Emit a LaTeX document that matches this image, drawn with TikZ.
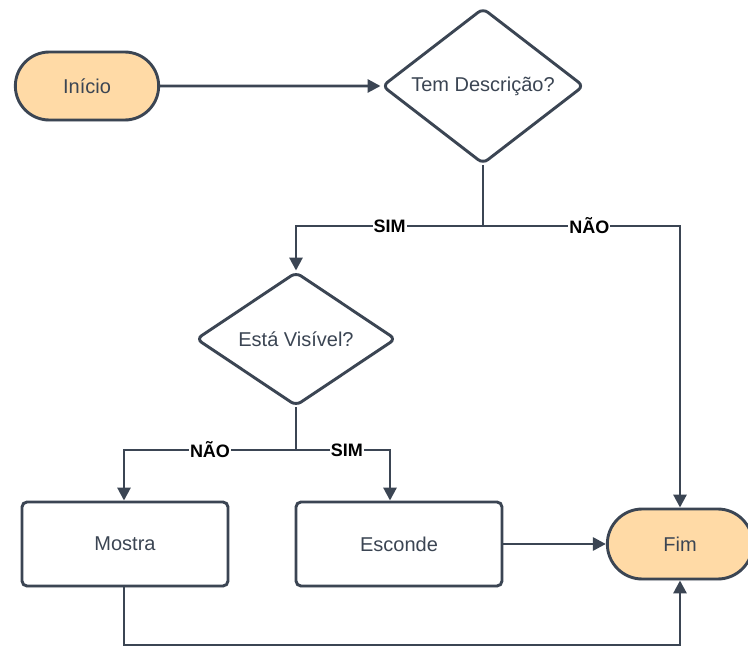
\documentclass[tikz,border=0pt]{standalone}
\usepackage{fontspec}
\setmainfont{Liberation Sans}
\usetikzlibrary{shapes.geometric,shapes.misc,arrows.meta,shadows}

\definecolor{linha}{HTML}{3B4553}
\definecolor{pessego}{HTML}{FFDAA6}

\tikzset{
	base/.style={draw=linha, line width=2.9pt, text=linha, font=\fontsize{20}{24}\selectfont,
		drop shadow={opacity=.12, shadow xshift=0pt, shadow yshift=-2pt}},
	terminal/.style={base, rounded rectangle, fill=pessego, minimum width=150pt, minimum height=68pt},
	decisao/.style={base, diamond, fill=white, aspect=1.3, inner sep=0pt, rounded corners=6pt},
	passo/.style={base, rectangle, fill=white, rounded corners=5pt, minimum width=206pt, minimum height=84pt},
	ligacao/.style={draw=linha, line width=2.9pt},
	seta/.style={ligacao, -{Triangle[length=13pt, width=13pt]}},
	rotulo/.style={fill=white, inner sep=1pt, text=black, font=\fontsize{18}{21}\selectfont\bfseries}
}

\begin{document}
\begin{tikzpicture}[x=1pt, y=-1pt]
	\useasboundingbox (0,0) rectangle (748,650);

	\node[terminal] (inicio) at (87,86) {Início};
	\node[decisao, minimum width=202pt, minimum height=156pt] (tem) at (483,86) {Tem Descrição?};
	\node[decisao, minimum width=200pt, minimum height=134pt] (esta) at (296,339) {Está Visível?};
	\node[passo] (mostra) at (125,544) {Mostra};
	\node[passo] (esconde) at (399,544) {Esconde};
	\node[terminal, minimum width=152pt, minimum height=70pt] (fim) at (680,544) {Fim};

	\coordinate (s1) at (483,226);
	\coordinate (s2) at (296,450);
	\coordinate (s3) at (124,645);

	\draw[seta] (inicio) -- (tem);
	\draw[ligacao] (tem.south) -- (s1);
	\draw[seta] (s1) -| node[rotulo, pos=.25] {SIM} (esta.north);
	\draw[seta] (s1) -| node[rotulo, pos=.27] {NÃO} (fim.north);

	\draw[ligacao] (esta.south) -- (s2);
	\draw[seta] (s2) -| node[rotulo, pos=.25] {NÃO} (mostra.north -| s3);
	\draw[seta] (s2) -| node[rotulo, pos=.27] {SIM} (esconde.north -| 390,0);

	\draw[seta] (esconde) -- (fim);
	\draw[seta] (mostra.south -| s3) -- (s3) -| (fim.south);
\end{tikzpicture}
\end{document}
